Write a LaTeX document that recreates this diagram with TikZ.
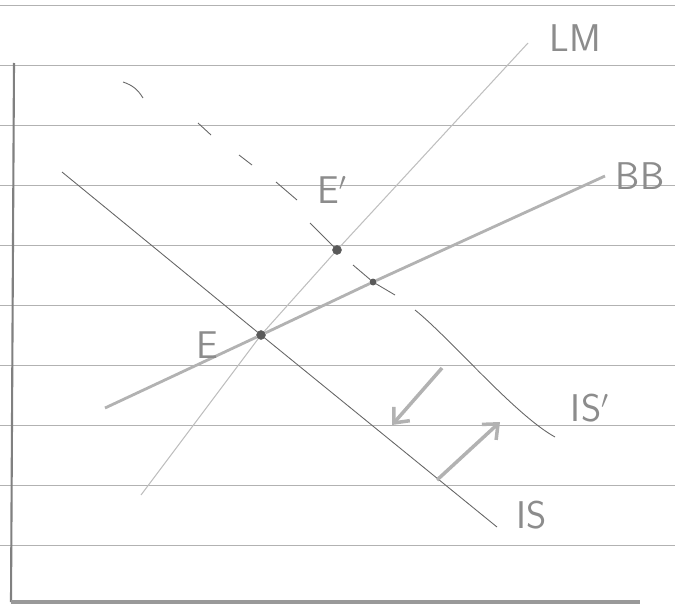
\documentclass[tikz,border=0pt]{standalone}
\usetikzlibrary{arrows.meta}
\begin{document}
\begin{tikzpicture}[x=0.02cm,y=-0.02cm]
    \tikzset{
        ruled/.style={draw=black!30, line width=0.5pt},
        axisline/.style={draw=black!50, line width=1.2pt},
        pt/.style={draw=black!65, fill=black!65, circle, inner sep=0pt, minimum size=5pt},
        smallpt/.style={pt, minimum size=3.5pt},
        lbl/.style={text=black!45, font=\sffamily\fontsize{22}{22}\selectfont},
        isline/.style={draw=black!60, line width=0.5pt},
        lmline/.style={draw=black!25, line width=0.6pt},
        bbline/.style={draw=black!30, line width=1.6pt},
        shiftarrow/.style={draw=black!30, line width=2pt, -{Straight Barb[length=7pt,width=12pt]}}
    }
    \useasboundingbox (0,0) rectangle (675,608);

    % lined paper
    \foreach \y in {5,65,...,545}{
        \draw[ruled] (0,\y) -- (675,\y);
    }

    % axes
    \coordinate (ytop) at (14,63);
    \coordinate (o) at (11,602);
    \coordinate (xend) at (640,602);
    \draw[axisline] (ytop) -- (o);
    \draw[axisline, line width=2pt, draw=black!40] (o) -- (xend);

    % equilibria
    \draw node[pt] (E) at (261,335) {};
    \draw node[pt] (E') at (337,250) {};
    \draw node[smallpt] (F) at (373,282) {};

    % curve ends
    \foreach \n/\x/\y in {%
        lm1/141/495, lm2/528/43, bb1/105/408, bb2/605/176, is1/62/172, is2/497/527,%
        s1/123/82, s2/143/98, s3/198/123, s4/211/135, s5/239/155, s6/252/165,%
        s7/276/182, s8/297/200, s9/310/223, s10/353/265, s11/395/295,%
        t1/415/310, t2/555/437,%
        a1/442/368, a2/392/425, b1/437/480, b2/500/422%
    }{
        \coordinate (\n) at (\x,\y);
    }

    % LM, BB, IS
    \draw[lmline] (lm1) -- (E) -- (E') -- (lm2);
    \draw[bbline] (bb1) -- (E) -- (F) -- (bb2);
    \draw[isline] (is1) -- (E) -- (is2);

    % IS'
    \draw[isline] (s1) to[bend left=20] (s2);
    \foreach \x/\y in {%
        s3/s4, s5/s6, s7/s8, s9/E', s10/F, F/s11%
    }{
    \draw[isline] (\x) -- (\y);
    }
    \draw[isline] (t1) .. controls (450,338) and (515,415) .. (t2);

    % shifts
    \draw[shiftarrow] (a1) -- (a2);
    \draw[shiftarrow] (b1) -- (b2);

    % labels
    \draw node[lbl] (lmlbl) at (575,38) {LM};
    \draw node[lbl] (bblbl) at (640,176) {BB};
    \draw node[lbl] (islbl) at (532,515) {IS};
    \draw node[lbl] (is'lbl) at (590,408) {IS$'$};
    \draw node[lbl] (elbl) at (207,345) {E};
    \draw node[lbl] (e'lbl) at (332,190) {E$'$};
\end{tikzpicture}
\end{document}
